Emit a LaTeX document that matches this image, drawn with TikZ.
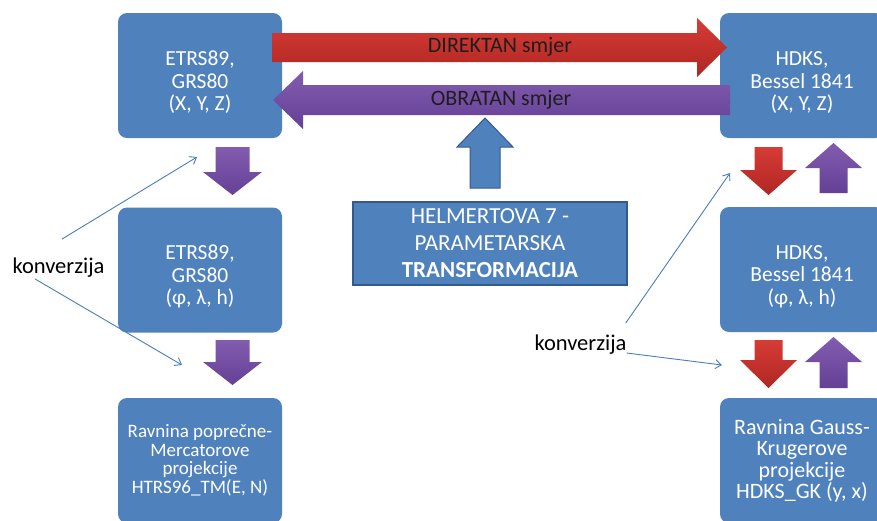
\documentclass[tikz,border=0pt]{standalone}
\usepackage{fontspec}
\setmainfont{Carlito}
\usetikzlibrary{arrows.meta}
\definecolor{boxblue}{RGB}{79,129,189}
\definecolor{boxline}{RGB}{52,90,140}
\definecolor{redlight}{RGB}{214,60,54}
\definecolor{reddark}{RGB}{176,38,34}
\definecolor{purplelight}{RGB}{130,92,174}
\definecolor{purpledark}{RGB}{100,64,150}
\definecolor{thinblue}{RGB}{74,126,187}
\definecolor{darktext}{RGB}{30,30,30}

\tikzset{
  basebox/.style={rectangle, rounded corners=9pt, fill=boxblue, text=white, align=center,
    minimum width=164pt, minimum height=125pt, inner sep=2pt},
  coordbox/.style={basebox, font={\fontsize{21.5}{22.5}\selectfont}},
  planebox/.style={basebox, font={\fontsize{19}{18.5}\selectfont}},
  planeboxbig/.style={basebox, font={\fontsize{22}{21.5}\selectfont}},
  helmbox/.style={rectangle, fill=boxblue, draw=boxline, line width=1.5pt, text=white, align=center,
    minimum width=274pt, minimum height=83pt, font={\fontsize{23}{27}\selectfont}},
  arrowtext/.style={text=darktext, inner sep=0pt, font={\fontsize{22}{24}\selectfont}},
  konvtext/.style={text=black, inner sep=0pt, font={\fontsize{22.5}{24}\selectfont}},
  konvline/.style={draw=thinblue, line width=0.9pt, -{Straight Barb[length=6pt,width=9pt]}},
  redarrow/.style={top color=redlight, bottom color=reddark, draw=none},
  purplearrow/.style={top color=purplelight, bottom color=purpledark, draw=none},
  bluearrow/.style={fill=boxblue, draw=boxline, line width=1pt}
}

% pushes the box text a little down
\newcommand{\toppad}{\rule{0pt}{28pt}}

% style, tail, rotation, length, shaft width, head width, head length
\newcommand{\blockarrow}[7]{%
  \begin{scope}[shift={#2}, rotate=#3]
    \path[#1] (0,-#5/2) -- (#4-#7,-#5/2) -- (#4-#7,-#6/2) -- (#4,0)
      -- (#4-#7,#6/2) -- (#4-#7,#5/2) -- (0,#5/2) -- cycle;
  \end{scope}}

\begin{document}
\begin{tikzpicture}[x=1pt, y=-1pt]
  \useasboundingbox (0,0) rectangle (877,520);
  \clip (0,0) rectangle (877,520);
  \fill[white] (0,0) rectangle (877,520);

  % koordinatni sustavi
  \node[coordbox] (etrsXYZ) at (200,75.5) {\toppad ETRS89,\\GRS80\\(X, Y, Z)};
  \node[coordbox] (etrsGeo) at (200,270) {\toppad ETRS89,\\GRS80\\(φ, λ, h)};
  \node[planebox] (etrsTM) at (200,460.5) {Ravnina poprečne-\\Mercatorove\\projekcije\\HTRS96\_TM(E, N)};
  \node[coordbox] (hdksXYZ) at (802,75.5) {\toppad HDKS,\\Bessel 1841\\(X, Y, Z)};
  \node[coordbox] (hdksGeo) at (802,269.5) {\toppad HDKS,\\Bessel 1841\\(φ, λ, h)};
  \node[planeboxbig] (hdksGK) at (802,460.5) {Ravnina Gauss-\\Krugerove\\projekcije\\HDKS\_GK (y, x)};
  \node[helmbox] (helmert) at (490,243.5) {HELMERTOVA 7 -\\PARAMETARSKA\\\textbf{TRANSFORMACIJA}};

  % smjerovi
  \blockarrow{redarrow}{(272,47.5)}{0}{455}{29}{59}{30}
  \blockarrow{purplearrow}{(730,100)}{180}{457}{30}{58}{30}
  \node[arrowtext] (direktan) at (500,47) {DIREKTAN smjer};
  \node[arrowtext] (obratan) at (501,100) {OBRATAN smjer};
  \blockarrow{bluearrow}{(485,188)}{90}{70}{30}{56}{29}

  \blockarrow{purplearrow}{(232.5,147)}{-90}{48}{34}{59}{23}
  \blockarrow{purplearrow}{(232.5,340)}{-90}{45}{34}{59}{23}
  \blockarrow{redarrow}{(768.5,147)}{-90}{48}{28}{57}{25}
  \blockarrow{redarrow}{(768.5,340)}{-90}{48}{28}{57}{28}
  \blockarrow{purplearrow}{(833.5,193)}{90}{50}{28}{57}{25}
  \blockarrow{purplearrow}{(833.5,388)}{90}{51}{28}{57}{25}

  % konverzija
  \node[konvtext] (konvL) at (58.5,268) {konverzija};
  \node[konvtext] (konvR) at (580.5,345) {konverzija};
  \coordinate (lUp) at (197,157);
  \coordinate (lDown) at (182,365);
  \coordinate (rUp) at (730,173);
  \coordinate (rDown) at (722,365);
  \draw[konvline] ([shift={(3.5,-19)}]konvL.north) -- (lUp);
  \draw[konvline] ([shift={(-23.5,1)}]konvL.south) -- (lDown);
  \draw[konvline] ([shift={(-1,-12)}]konvR.north east) -- (rUp);
  \draw[konvline] ([shift={(0,8)}]konvR.east) -- (rDown);
\end{tikzpicture}
\end{document}
